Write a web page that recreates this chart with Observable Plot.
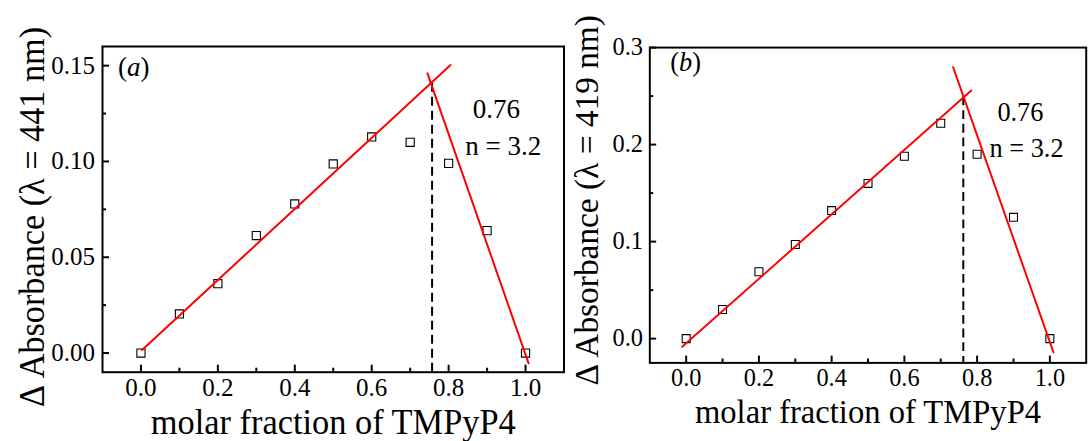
<!DOCTYPE html>
<html>
<head>
<meta charset="utf-8">
<script src="https://cdn.jsdelivr.net/npm/d3@7"></script>
<script src="https://cdn.jsdelivr.net/npm/@observablehq/plot@0.6"></script>
<style>
  html, body { margin: 0; padding: 0; background: #fff; overflow: hidden; }
  #wrap { position: relative; width: 1091px; height: 441px; overflow: hidden; background: #fff; }
  .panel { position: absolute; top: 0; }
  .panel svg text { font-family: "Liberation Serif", "Times New Roman", serif; }
</style>
</head>
<body>
<div id="wrap">
  <div id="pa" class="panel" style="left:0px"></div>
  <div id="pb" class="panel" style="left:545px"></div>
</div>
<script>
// ---- data ----
const molarFraction = [0, 0.1, 0.2, 0.3, 0.4, 0.5, 0.6, 0.7, 0.8, 0.9, 1.0];
const absorbanceA = [0, 0.0204, 0.0362, 0.0613, 0.0778, 0.0987, 0.1128, 0.110, 0.099, 0.0639, 0];
const absorbanceB = [0, 0.030, 0.069, 0.097, 0.132, 0.160, 0.188, 0.222, 0.190, 0.125, 0];

// linear fit segments (endpoints)
const fitRiseAx = [0.003, 0.805], fitRiseAy = [0.0016, 0.1503];
const fitFallAx = [0.745, 1.008], fitFallAy = [0.146, -0.0054];
const fitRiseBx = [-0.011, 0.784], fitRiseBy = [-0.0084, 0.2557];
const fitFallBx = [0.734, 1.010], fitFallBy = [0.2798, -0.0141];

// break point (dashed line)
const breakA = {x: 0.757, y: 0.1408};
const breakB = {x: 0.762, y: 0.249};

// ticks
const xTicks = [0, 0.2, 0.4, 0.6, 0.8, 1.0];
const xMinor = [0.1, 0.3, 0.5, 0.7, 0.9];
const yTicksA = [0, 0.05, 0.10, 0.15];
const yMinorA = [0.025, 0.075, 0.125];
const yTicksB = [0, 0.1, 0.2, 0.3];
const yMinorB = [0.05, 0.15, 0.25];

const xLabel = "molar fraction of TMPyP4";
const yLabelA = "\u0394 Absorbance (\u03bb = 441 nm)";
const yLabelB = "\u0394 Absorbance (\u03bb = 419 nm)";
const ratioText = "0.76";
const nText = "n = 3.2";

const SERIF = "Liberation Serif";

function zip(xs, ys) { return xs.map((x, i) => ({x, y: ys[i]})); }

function panel(cfg) {
  const W = cfg.width, H = 441;
  const plotW = W - cfg.ml - cfg.mr, plotH = H - cfg.mt - cfg.mb;
  const pts = zip(molarFraction, cfg.values);
  const chart = Plot.plot({
    width: W, height: H,
    marginLeft: cfg.ml, marginRight: cfg.mr, marginTop: cfg.mt, marginBottom: cfg.mb,
    style: {fontFamily: SERIF, fontSize: "25px", color: "black", background: "transparent", overflow: "visible"},
    x: {domain: [-0.1, 1.1]},
    y: {domain: cfg.yDomain},
    marks: [
      Plot.axisX({ticks: xTicks, tickSize: 0, tickPadding: 6, tickFormat: d3.format(".1f"), label: null, fontSize: 25, fontFamily: SERIF}),
      Plot.axisY({ticks: cfg.yTicks, tickSize: 0, tickPadding: cfg.ytp, tickFormat: d3.format(cfg.yFmt), label: null, fontSize: 25, fontFamily: SERIF}),
      Plot.tickX(xTicks, {x: d => d, insetTop: plotH - 7, stroke: "black", strokeWidth: 2}),
      Plot.tickX(xMinor, {x: d => d, insetTop: plotH - 4, stroke: "black", strokeWidth: 2}),
      Plot.tickY(cfg.yTicks, {y: d => d, insetRight: plotW - 7, stroke: "black", strokeWidth: 2}),
      Plot.tickY(cfg.yMinor, {y: d => d, insetRight: plotW - 4, stroke: "black", strokeWidth: 2}),
      Plot.frame({stroke: "black", strokeWidth: 2}),
      Plot.dot(pts, {x: "x", y: "y", symbol: "square", r: 4.6, fill: "white", stroke: "black", strokeWidth: 1.1}),
      Plot.ruleX([cfg.brk], {x: "x", y1: "y", y2: cfg.yDomain[0], stroke: "black", strokeWidth: 2, strokeDasharray: "9,5"}),
      Plot.line(zip(cfg.riseX, cfg.riseY), {x: "x", y: "y", stroke: "#ff0000", strokeWidth: 2}),
      Plot.line(zip(cfg.fallX, cfg.fallY), {x: "x", y: "y", stroke: "#ff0000", strokeWidth: 2}),
      Plot.text([ratioText], {x: cfg.ratioPos[0], y: cfg.ratioPos[1], text: d => d, fontSize: 27, fontFamily: SERIF, textAnchor: "middle"}),
      Plot.text([nText], {x: cfg.nPos[0], y: cfg.nPos[1], text: d => d, fontSize: 27, fontFamily: SERIF, textAnchor: "middle"}),
      Plot.text([cfg.tag], {x: cfg.tagPos[0], y: cfg.tagPos[1], text: d => d, fontSize: 27, fontFamily: SERIF, textAnchor: "start", lineAnchor: "bottom"}),
      Plot.text([xLabel], {frameAnchor: "bottom", text: d => d, dy: 61.5, lineAnchor: "bottom", textAnchor: "middle", fontSize: 35, fontFamily: SERIF}),
      Plot.text([cfg.yLabel], {frameAnchor: "left", text: d => d, rotate: -90, dx: cfg.yldx, dy: cfg.yldy, lineAnchor: "bottom", textAnchor: "middle", fontSize: 35, fontFamily: SERIF})
    ]
  });
  document.getElementById(cfg.id).appendChild(chart);
  // fit the long labels to the reference lengths, and italicise the panel letter
  chart.querySelectorAll("text").forEach(t => {
    const s = t.textContent;
    if (s === xLabel) {
      t.setAttribute("textLength", cfg.xlLen);
      t.setAttribute("lengthAdjust", "spacingAndGlyphs");
    } else if (s === cfg.yLabel) {
      t.setAttribute("textLength", cfg.ylLen);
      t.setAttribute("lengthAdjust", "spacingAndGlyphs");
    } else if (s === cfg.tag) {
      const letter = cfg.tag.slice(1, -1);
      t.textContent = "";
      const ns = "http://www.w3.org/2000/svg";
      t.appendChild(document.createTextNode("("));
      const ts = document.createElementNS(ns, "tspan");
      ts.setAttribute("font-style", "italic");
      ts.textContent = letter;
      t.appendChild(ts);
      t.appendChild(document.createTextNode(")"));
    }
  });
}

panel({
  id: "pa", width: 575, ml: 102, mr: 11.5, mt: 46, mb: 69.3,
  values: absorbanceA, yDomain: [-0.01, 0.16], yTicks: yTicksA, yMinor: yMinorA, yFmt: ".2f", ytp: 7.5,
  riseX: fitRiseAx, riseY: fitRiseAy, fallX: fitFallAx, fallY: fitFallAy, brk: breakA,
  ratioPos: [0.924, 0.1271], nPos: [0.942, 0.108], tag: "(a)", tagPos: [-0.0596, 0.1444],
  yLabel: yLabelA, yldx: -58.6, yldy: 7.6, ylLen: 380, xlLen: 365
});

panel({
  id: "pb", width: 560, ml: 107, mr: 5.4, mt: 48.3, mb: 69.3,
  values: absorbanceB, yDomain: [-0.025, 0.3], yTicks: yTicksB, yMinor: yMinorB, yFmt: ".1f", ytp: 7,
  riseX: fitRiseBx, riseY: fitRiseBy, fallX: fitFallBx, fallY: fitFallBy, brk: breakB,
  ratioPos: [0.919, 0.2329], nPos: [0.936, 0.196], tag: "(b)", tagPos: [-0.0437, 0.2762],
  yLabel: yLabelB, yldx: -53.1, yldy: -5, ylLen: 380, xlLen: 355
});
</script>
</body>
</html>
